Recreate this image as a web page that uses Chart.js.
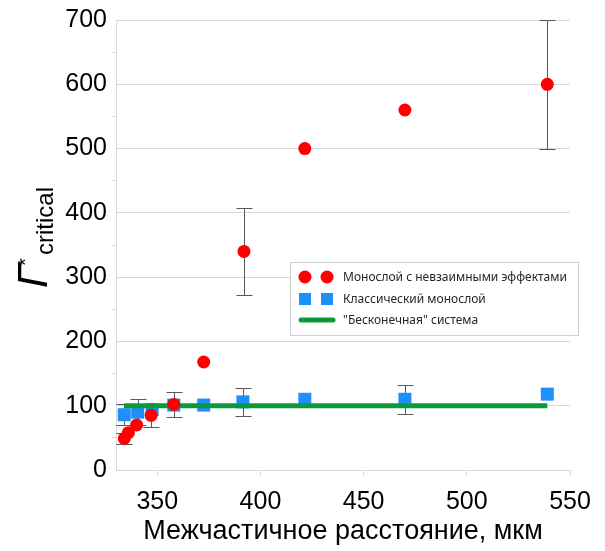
<!DOCTYPE html>
<html>
<head>
<meta charset="utf-8">
<script src="https://cdn.jsdelivr.net/npm/chart.js@4.4.1/dist/chart.umd.min.js"></script>
<style>
  html, body { margin: 0; padding: 0; background: #ffffff; }
  #chart { display: block; }
</style>
</head>
<body>
<canvas id="chart" width="605" height="551"></canvas>
<script>
  "use strict";

  // Монослой с невзаимными эффектами
  var redX = [334, 336, 340, 347, 358, 372.5, 392, 421.5, 470, 539];
  var redY = [49, 58, 70, 85, 102, 168, 340, 500, 560, 600];
  var redErr = [9, 0, 0, 18, 20, 0, 68, 0, 0, 100];

  // Классический монослой
  var blueX = [334, 340.5, 347.5, 358, 372.5, 391.5, 421.5, 470, 539];
  var blueY = [86, 90, 94, 101, 101, 106, 110, 110, 118];
  var blueErr = [16, 20, 0, 0, 0, 22, 0, 23, 0];

  // "Бесконечная" система
  var lineX = [334, 539];
  var lineY = [100, 100];

  var seriesLabels = [
    "Монослой с невзаимными эффектами",
    "Классический монослой",
    "\"Бесконечная\" система"
  ];
  var xTitle = "Межчастичное расстояние, мкм";

  function toPoints(xs, ys) {
    return xs.map(function (x, i) { return { x: x, y: ys[i] }; });
  }

  var FONT = "'Liberation Sans', Arial, sans-serif";
  var GRID = "#d9d9d9";

  // Error bars, drawn under the markers
  var errorBars = {
    id: "errorBars",
    beforeDatasetsDraw: function (chart) {
      var ctx = chart.ctx;
      var xs = chart.scales.x, ys = chart.scales.y;
      ctx.save();
      ctx.strokeStyle = "#595959";
      ctx.lineWidth = 1;
      chart.data.datasets.forEach(function (ds) {
        if (!ds.errors) return;
        ds.data.forEach(function (p, i) {
          var e = ds.errors[i];
          if (!e) return;
          var px = Math.round(xs.getPixelForValue(p.x)) + 0.5;
          var top = Math.round(ys.getPixelForValue(p.y + e)) + 0.5;
          var bot = Math.round(ys.getPixelForValue(p.y - e)) + 0.5;
          ctx.beginPath();
          ctx.moveTo(px, top); ctx.lineTo(px, bot);
          ctx.moveTo(px - 8, top); ctx.lineTo(px + 8, top);
          ctx.moveTo(px - 8, bot); ctx.lineTo(px + 8, bot);
          ctx.stroke();
        });
      });
      ctx.restore();
    }
  };

  // Legend box in the plot and the rotated y title
  var extras = {
    id: "extras",
    afterDraw: function (chart) {
      var ctx = chart.ctx;
      var dsets = chart.data.datasets;
      ctx.save();

      // legend
      var bx = 290.5, by = 262.5, bw = 288, bh = 73;
      ctx.fillStyle = "#ffffff";
      ctx.fillRect(bx, by, bw, bh);
      ctx.strokeStyle = "#cfcfcf";
      ctx.lineWidth = 1;
      ctx.strokeRect(bx, by, bw, bh);

      var rows = [277, 299, 320];
      ctx.font = "12px 'Noto Sans', 'Open Sans', sans-serif";
      ctx.textBaseline = "middle";
      ctx.textAlign = "left";
      [0, 1, 2].forEach(function (k) {
        var ds = dsets[k];
        var y = rows[k];
        if (ds.showLine) {
          ctx.strokeStyle = ds.borderColor;
          ctx.lineWidth = ds.borderWidth;
          ctx.lineCap = "round";
          ctx.beginPath();
          ctx.moveTo(301, y); ctx.lineTo(333, y);
          ctx.stroke();
        } else {
          [305, 327].forEach(function (mx) {
            ctx.fillStyle = ds.backgroundColor;
            if (ds.pointStyle === "rect") {
              ctx.fillRect(mx - 6, y - 6, 12, 12);
            } else {
              ctx.beginPath();
              ctx.arc(mx, y, ds.pointRadius, 0, Math.PI * 2);
              ctx.fill();
            }
          });
        }
        ctx.fillStyle = "#262626";
        ctx.fillText(ds.label, 343, y + 1);
      });

      // y title: Γ*critical, rotated
      ctx.translate(47, 288);
      ctx.rotate(-Math.PI / 2);
      ctx.fillStyle = "#000000";
      ctx.textBaseline = "alphabetic";
      ctx.font = "italic 42px " + FONT;
      ctx.fillText("\u0393", 0, 0);
      ctx.font = "20px " + FONT;
      ctx.fillText("*", 22, -15);
      ctx.font = "24px " + FONT;
      ctx.fillText("critical", 33, 6);

      ctx.restore();
    }
  };

  new Chart(document.getElementById("chart"), {
    type: "scatter",
    data: {
      datasets: [
        {
          label: seriesLabels[0],
          data: toPoints(redX, redY),
          errors: redErr,
          backgroundColor: "#ff0000",
          borderColor: "#ff0000",
          pointStyle: "circle",
          pointRadius: 6.5,
          pointBorderWidth: 0,
          order: 0
        },
        {
          label: seriesLabels[1],
          data: toPoints(blueX, blueY),
          errors: blueErr,
          backgroundColor: "#1e8fff",
          borderColor: "#1e8fff",
          pointStyle: "rect",
          pointRadius: 9.2,
          pointBorderWidth: 0,
          order: 2
        },
        {
          label: seriesLabels[2],
          data: toPoints(lineX, lineY),
          showLine: true,
          borderColor: "#0a9a3c",
          backgroundColor: "#0a9a3c",
          borderWidth: 5,
          pointRadius: 0,
          order: 1
        }
      ]
    },
    options: {
      responsive: false,
      animation: false,
      devicePixelRatio: 1,
      layout: { padding: { top: 19, right: 35, left: 0, bottom: 0 } },
      plugins: {
        legend: { display: false },
        tooltip: { enabled: false }
      },
      scales: {
        x: {
          type: "linear",
          min: 330,
          max: 550,
          ticks: {
            stepSize: 50,
            includeBounds: false,
            color: "#000000",
            font: { family: FONT, size: 25 },
            padding: 11,
            maxRotation: 0
          },
          grid: {
            drawOnChartArea: false,
            drawTicks: true,
            tickLength: 6,
            color: GRID
          },
          border: { color: GRID, width: 1 },
          title: {
            display: true,
            text: xTitle,
            color: "#000000",
            font: { family: FONT, size: 27 },
            padding: { top: 0, bottom: 3 }
          },
          afterFit: function (scale) { scale.height = 81; }
        },
        y: {
          min: 0,
          max: 700,
          ticks: {
            stepSize: 50,
            autoSkip: false,
            color: "#000000",
            font: { family: FONT, size: 25 },
            padding: 5,
            callback: function (v) { return v % 100 === 0 ? String(v) : ""; }
          },
          grid: {
            color: function (c) { return c.tick && c.tick.value % 100 === 0 ? GRID : "rgba(0,0,0,0)"; },
            tickColor: function (c) { return c.tick && c.tick.value % 100 === 0 ? "rgba(0,0,0,0)" : GRID; },
            tickLength: 4
          },
          border: { color: GRID, width: 1 },
          afterFit: function (scale) { scale.width = 116; }
        }
      }
    },
    plugins: [errorBars, extras]
  });
</script>
</body>
</html>
